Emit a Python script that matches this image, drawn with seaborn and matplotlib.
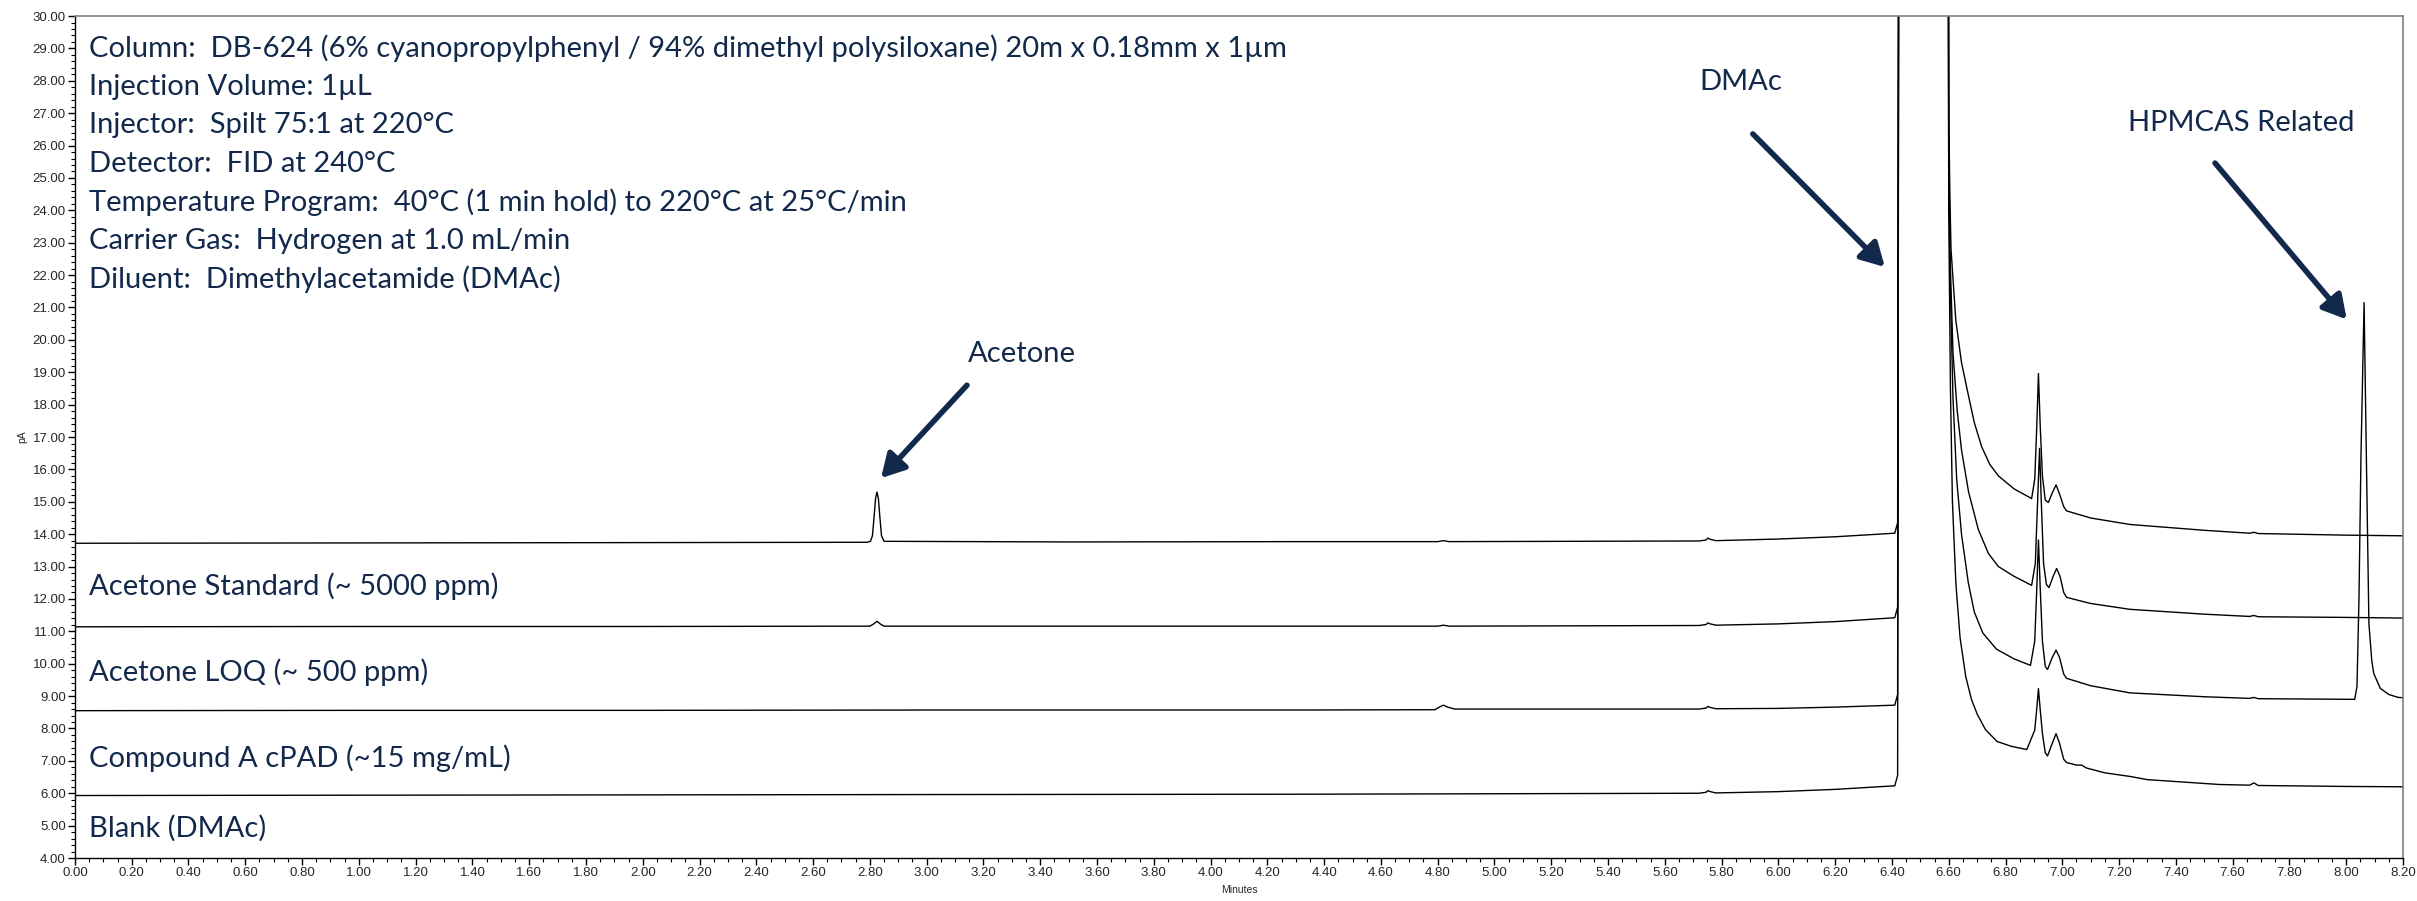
import numpy as np
import pandas as pd
import matplotlib
matplotlib.use("Agg")
import matplotlib.pyplot as plt
from matplotlib.ticker import MultipleLocator, FormatStrFormatter
import seaborn as sns

# chromatogram traces (minutes, pA)
std_min = [0.00, 1.00, 2.00, 2.79, 2.802, 2.809, 2.815, 2.820, 2.825, 2.830, 2.835, 2.841, 2.850,
           3.50, 4.30, 4.80, 4.82, 4.84,
           5.72, 5.745, 5.752, 5.76, 5.78, 6.00, 6.20, 6.41, 6.42, 6.428, 6.594,
           6.600, 6.604, 6.608, 6.625, 6.645, 6.669, 6.690, 6.716, 6.745, 6.775, 6.830, 6.892,
           6.903, 6.910, 6.916, 6.922, 6.930, 6.940, 6.951, 6.966, 6.978, 6.990, 7.005, 7.015,
           7.100, 7.238, 7.500, 7.660, 7.675, 7.690, 8.000, 8.200]
std_pa = [13.72, 13.73, 13.74, 13.75, 13.78, 13.95, 14.55, 15.10, 15.30, 15.10, 14.55, 13.95, 13.78,
          13.76, 13.77, 13.77, 13.80, 13.77,
          13.79, 13.82, 13.88, 13.84, 13.80, 13.85, 13.92, 14.03, 14.35, 60.0, 60.0,
          27.0, 24.5, 22.8, 20.6, 19.3, 18.3, 17.45, 16.7, 16.15, 15.8, 15.40, 15.10,
          15.7, 17.3, 18.96, 17.4, 15.8, 15.05, 14.98, 15.3, 15.52, 15.25, 14.85, 14.72,
          14.50, 14.30, 14.12, 14.03, 14.06, 14.02, 13.97, 13.95]

loq_min = [0.00, 1.00, 2.00, 2.80, 2.812, 2.825, 2.838, 2.85, 3.50, 4.30, 4.80, 4.82, 4.84,
           5.72, 5.745, 5.752, 5.76, 5.78, 6.00, 6.20, 6.41, 6.42, 6.428, 6.594,
           6.600, 6.605, 6.615, 6.630, 6.645, 6.670, 6.704, 6.740, 6.775, 6.830, 6.892,
           6.905, 6.913, 6.920, 6.926, 6.934, 6.944, 6.953, 6.968, 6.980, 6.992, 7.005, 7.015,
           7.068, 7.100, 7.238, 7.500, 7.660, 7.675, 7.690, 8.000, 8.200]
loq_pa = [11.14, 11.15, 11.15, 11.16, 11.22, 11.31, 11.22, 11.16, 11.16, 11.16, 11.16, 11.19, 11.16,
          11.18, 11.21, 11.26, 11.23, 11.19, 11.23, 11.30, 11.42, 11.75, 60.0, 60.0,
          26.0, 22.5, 19.6, 17.8, 16.6, 15.3, 14.15, 13.4, 13.0, 12.7, 12.42,
          13.1, 15.0, 16.65, 15.0, 13.1, 12.45, 12.35, 12.7, 12.94, 12.7, 12.2, 12.05,
          11.93, 11.86, 11.68, 11.53, 11.46, 11.49, 11.45, 11.43, 11.41]

cpad_min = [0.00, 1.00, 2.00, 3.00, 4.30, 4.79, 4.81, 4.82, 4.835, 4.86,
            5.72, 5.745, 5.752, 5.76, 5.78, 6.00, 6.20, 6.41, 6.42, 6.428, 6.594,
            6.600, 6.606, 6.615, 6.628, 6.645, 6.669, 6.690, 6.720, 6.768, 6.830, 6.888,
            6.903, 6.910, 6.916, 6.922, 6.930, 6.940, 6.948, 6.965, 6.978, 6.990, 7.005, 7.015,
            7.100, 7.238, 7.500, 7.660, 7.675, 7.690, 8.030, 8.038, 8.045, 8.052, 8.063,
            8.071, 8.080, 8.090, 8.097, 8.120, 8.150, 8.183, 8.200]
cpad_pa = [8.55, 8.56, 8.56, 8.57, 8.57, 8.58, 8.68, 8.72, 8.66, 8.60,
           8.60, 8.63, 8.68, 8.65, 8.61, 8.62, 8.66, 8.72, 9.05, 60.0, 60.0,
           25.0, 21.5, 18.2, 15.7, 14.0, 12.5, 11.6, 10.95, 10.45, 10.15, 9.95,
           10.7, 12.3, 13.82, 12.4, 10.7, 9.92, 9.82, 10.2, 10.42, 10.2, 9.68, 9.55,
           9.32, 9.10, 8.98, 8.93, 8.96, 8.92, 8.90, 9.3, 12.0, 16.39, 21.15,
           16.39, 11.24, 10.1, 9.70, 9.24, 9.05, 8.96, 8.95]

blank_min = [0.00, 1.00, 2.00, 3.00, 4.30, 5.72, 5.745, 5.752, 5.76, 5.78, 6.00, 6.20, 6.41, 6.42, 6.428, 6.594,
             6.600, 6.606, 6.613, 6.625, 6.640, 6.660, 6.680, 6.700, 6.729, 6.770, 6.820, 6.875,
             6.903, 6.910, 6.916, 6.922, 6.930, 6.940, 6.948, 6.965, 6.978, 6.990, 7.005, 7.015,
             7.050, 7.068, 7.085, 7.150, 7.238, 7.300, 7.555, 7.660, 7.675, 7.690, 8.000, 8.200]
blank_pa = [5.93, 5.94, 5.95, 5.96, 5.97, 6.00, 6.03, 6.08, 6.05, 6.01, 6.05, 6.12, 6.23, 6.55, 60.0, 60.0,
            24.0, 18.5, 15.0, 12.5, 10.8, 9.6, 8.9, 8.45, 7.97, 7.6, 7.45, 7.35,
            7.95, 8.6, 9.23, 8.6, 7.85, 7.25, 7.15, 7.55, 7.84, 7.55, 7.05, 6.95,
            6.87, 6.87, 6.78, 6.63, 6.52, 6.42, 6.27, 6.25, 6.32, 6.24, 6.21, 6.20]

trace_names = ["Acetone Standard (~ 5000 ppm)", "Acetone LOQ (~ 500 ppm)",
               "Compound A cPAD (~15 mg/mL)", "Blank (DMAc)"]
trace_label_y = [12.40, 9.74, 7.08, 4.93]

method_lines = [
    "Column:  DB-624 (6% cyanopropylphenyl / 94% dimethyl polysiloxane) 20m x 0.18mm x 1\u00b5m",
    "Injection Volume: 1\u00b5L",
    "Injector:  Spilt 75:1 at 220\u00b0C",
    "Detector:  FID at 240\u00b0C",
    "Temperature Program:  40\u00b0C (1 min hold) to 220\u00b0C at 25\u00b0C/min",
    "Carrier Gas:  Hydrogen at 1.0 mL/min",
    "Diluent:  Dimethylacetamide (DMAc)",
]

peak_names = ["Acetone", "DMAc", "HPMCAS Related"]
peak_text_xy = [(3.145, 19.56), (5.72, 27.96), (7.23, 26.70)]
peak_arrow_from = [(3.142, 18.60), (5.91, 26.36), (7.538, 25.46)]
peak_arrow_to = [(2.839, 15.73), (6.375, 22.25), (8.002, 20.63)]

frames = []
for name, t, v in zip(trace_names, [std_min, loq_min, cpad_min, blank_min],
                      [std_pa, loq_pa, cpad_pa, blank_pa]):
    frames.append(pd.DataFrame({"Minutes": t, "pA": v, "trace": name}))
df = pd.concat(frames, ignore_index=True)

sns.set_theme(style="ticks")
plt.rcParams["font.family"] = ["Liberation Sans", "DejaVu Sans"]
navy = "#13294B"
label_font = ["Lato", "DejaVu Sans"]

fig = plt.figure(figsize=(24.17, 9.01), dpi=100)
ax = fig.add_axes([0.0310, 0.0477, 0.9632, 0.9345])

sns.lineplot(data=df, x="Minutes", y="pA", units="trace", estimator=None, sort=False,
             color="black", lw=1.0, ax=ax)

ax.set_xlim(0, 8.2)
ax.set_ylim(4, 30)
ax.xaxis.set_major_locator(MultipleLocator(0.2))
ax.xaxis.set_minor_locator(MultipleLocator(0.05))
ax.yaxis.set_major_locator(MultipleLocator(1))
ax.yaxis.set_minor_locator(MultipleLocator(0.2))
ax.xaxis.set_major_formatter(FormatStrFormatter("%.2f"))
ax.yaxis.set_major_formatter(FormatStrFormatter("%.2f"))
ax.tick_params(which="major", direction="out", length=5, width=1, labelsize=9.5, pad=1.5, color="black")
ax.tick_params(which="minor", direction="out", length=3, width=0.8, color="black")
ax.set_xlabel("Minutes", fontsize=7.5, labelpad=4)
ax.set_ylabel("pA", fontsize=7.5, labelpad=4)

for s in ["left", "bottom"]:
    ax.spines[s].set_color("black")
    ax.spines[s].set_linewidth(1.0)
for s in ["top", "right"]:
    ax.spines[s].set_visible(True)
    ax.spines[s].set_color("#7f7f7f")
    ax.spines[s].set_linewidth(1.2)

for i, line in enumerate(method_lines):
    ax.text(0.05, 29.0 - i * 1.19, line, fontsize=21, color=navy, family=label_font,
            ha="left", va="center")

for name, y in zip(trace_names, trace_label_y):
    ax.text(0.05, y, name, fontsize=21, color=navy, family=label_font, ha="left", va="center")

for name, xy, a0, a1 in zip(peak_names, peak_text_xy, peak_arrow_from, peak_arrow_to):
    ax.text(xy[0], xy[1], name, fontsize=21, color=navy, family=label_font, ha="left", va="center")
    ax.annotate("", xy=a1, xytext=a0,
                arrowprops=dict(arrowstyle="-|>,head_length=0.5,head_width=0.28",
                                lw=4, color=navy, mutation_scale=28,
                                shrinkA=0, shrinkB=0))

fig.savefig("out.png", dpi=100)
